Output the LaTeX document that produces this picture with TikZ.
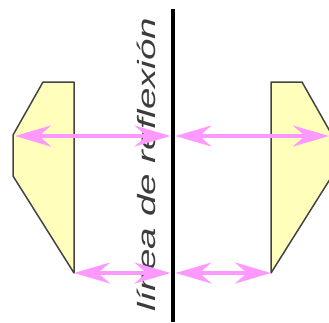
\documentclass[tikz,border=0pt]{standalone}
\usepackage{fontspec}
\setmainfont{Liberation Sans}
\usetikzlibrary{arrows.meta}
\definecolor{shapefill}{HTML}{FFFFBB}
\definecolor{shapeedge}{HTML}{444444}
\definecolor{rayo}{HTML}{FF99FF}
\definecolor{texto}{HTML}{3C3C3C}
\begin{document}
\begin{tikzpicture}[x=1pt,y=-1pt,
  figura/.style={fill=shapefill,draw=shapeedge,line width=1.5pt,line join=round},
  rayo/.style={draw=rayo,line width=4pt,
    {Stealth[length=36pt,width=21pt,inset=12pt]}-{Stealth[length=36pt,width=21pt,inset=12pt]}}]
  \useasboundingbox (0,0) rectangle (329,322);
  \clip (0,0) rectangle (329,322);
  % figura original y su imagen
  \coordinate (a1) at (43,82);  \coordinate (a2) at (74,82);  \coordinate (a3) at (74,273);
  \coordinate (a4) at (13,176); \coordinate (a5) at (13,135);
  \coordinate (b1) at (302,82); \coordinate (b2) at (271,82); \coordinate (b3) at (271,273);
  \coordinate (b4) at (332,176); \coordinate (b5) at (332,135);
  \draw[figura] (a1) -- (a2) -- (a3) -- (a4) -- (a5) -- cycle;
  \draw[figura] (b1) -- (b2) -- (b3) -- (b4) -- (b5) -- cycle;
  % eje de reflexion
  \coordinate (ejearriba) at (173,9);
  \coordinate (ejeabajo) at (173,322);
  \node[texto,rotate=90,anchor=base] (etiqueta) at (155,164.5)
    {\fontsize{25}{30}\selectfont\itshape\scalebox{1.54}[1]{línea de reflexión}};
  % distancias al eje
  \coordinate (m1) at (170.5,136); \coordinate (n1) at (175.5,136);
  \coordinate (m2) at (170.5,273); \coordinate (n2) at (175.5,273);
  \draw[rayo] ([xshift=2pt,yshift=-1pt]a5) -- (m1);
  \draw[rayo] (n1) -- ([xshift=-3pt,yshift=-1pt]b5);
  \draw[rayo] (a3) -- (m2);
  \draw[rayo] (n2) -- (b3);
  \draw[line width=3.5pt] (ejearriba) -- (ejeabajo);
\end{tikzpicture}
\end{document}
